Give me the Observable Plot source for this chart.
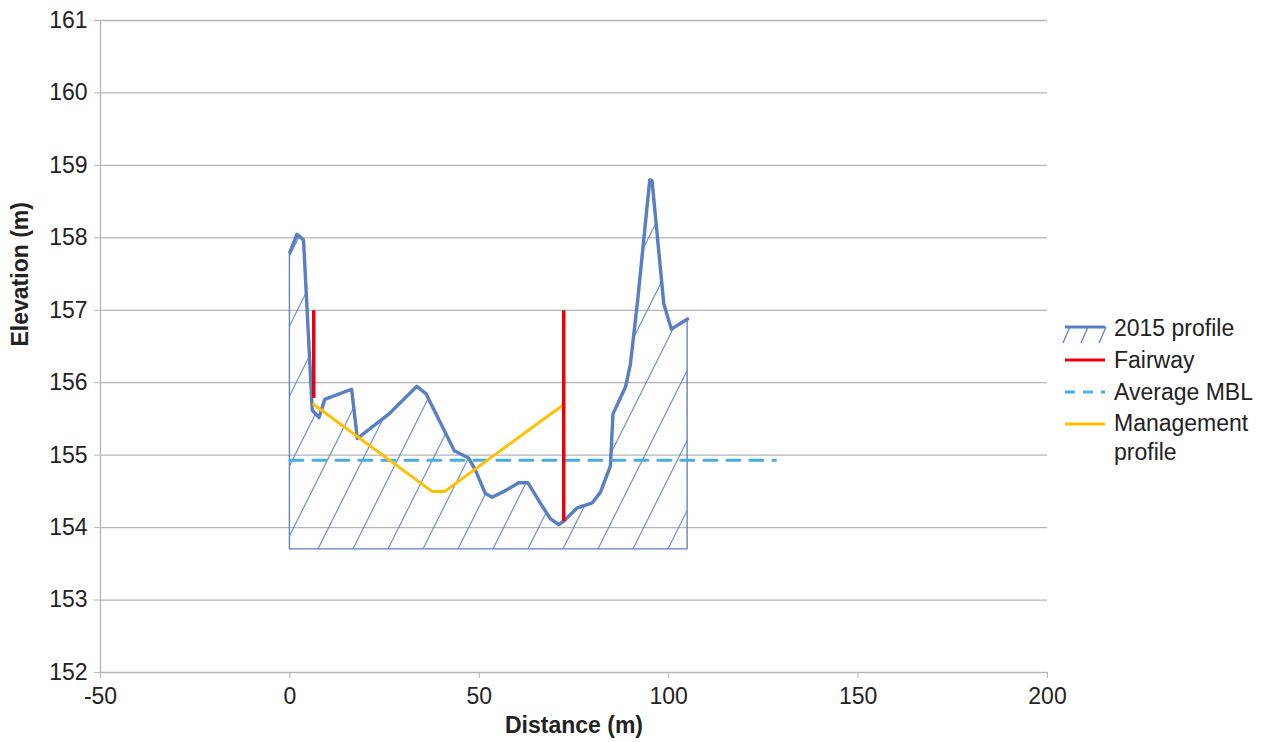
<!DOCTYPE html>
<html><head><meta charset="utf-8">
<script src="https://cdn.jsdelivr.net/npm/d3@7"></script>
<script src="https://cdn.jsdelivr.net/npm/@observablehq/plot@0.6"></script>
<style>
body{margin:0;background:#fff;font-family:"Liberation Sans",Arial,sans-serif;}
#wrap{position:relative;width:1271px;height:742px;}
#legend{position:absolute;left:1062px;top:312px;font-size:23px;color:#222;}
.row{position:relative;height:32px;line-height:32px;padding-left:52px;white-space:nowrap;}
.row svg{position:absolute;left:0;top:0;}
</style></head><body><div id="wrap"><div id="legend"></div></div>
<script>
// 2015 profile (distance m, elevation m)
const profileDistance = [0, 1.9, 3.6, 5.9, 7.7, 9.2, 16.3, 17.8, 26.2, 33.5, 35.9, 43.4, 47.2, 49.0, 51.6, 53.4, 56.9, 60.4, 62.8, 66.2, 68.8, 71.0, 72.3, 75.8, 79.8, 82.0, 84.6, 85.3, 88.6, 89.9, 91.8, 95.0, 95.6, 98.7, 100.7, 105.0];
const profileElevation = [157.8, 158.05, 157.97, 155.62, 155.52, 155.77, 155.91, 155.23, 155.57, 155.95, 155.85, 155.06, 154.96, 154.79, 154.47, 154.42, 154.51, 154.62, 154.62, 154.33, 154.12, 154.04, 154.09, 154.27, 154.34, 154.49, 154.85, 155.57, 155.94, 156.26, 157.13, 158.80, 158.79, 157.09, 156.74, 156.88];
const profileBase = 153.7;
// Fairway
const fairwayDistance = [6.3, 72.3];
const fairwayTop = [157.0, 157.0];
const fairwayBottom = [155.79, 154.09];
// Management profile
const mgmtDistance = [6.3, 37.5, 40.9, 72.3];
const mgmtElevation = [155.7, 154.5, 154.5, 155.7];
// Average MBL
const mblDistance = [0, 128.2];
const mblElevation = [154.93, 154.93];
// ticks
const xTicks = [-50, 0, 50, 100, 150, 200];
const yTicks = [152, 153, 154, 155, 156, 157, 158, 159, 160, 161];
const legendLabels = ["2015 profile", "Fairway", "Average MBL", "Management profile"];

const blue = "#5a7ec3", red = "#e8000b", cyan = "#47ade2", gold = "#ffc000", grid = "#b5b5b5";

const profile = profileDistance.map((d, i) => ({d, e: profileElevation[i]}));
const fairway = fairwayDistance.map((d, i) => ({d, top: fairwayTop[i], bot: fairwayBottom[i]}));
const mgmt = mgmtDistance.map((d, i) => ({d, e: mgmtElevation[i]}));
const mbl = mblDistance.map((d, i) => ({d, e: mblElevation[i]}));

const chart = Plot.plot({
  width: 1271, height: 742,
  marginLeft: 100, marginRight: 224, marginTop: 20, marginBottom: 70,
  style: {fontFamily: "'Liberation Sans', Arial, sans-serif", fontSize: "23px", color: "#222", background: "#fff"},
  x: {domain: [-50, 200], label: null},
  y: {domain: [152, 161], label: null},
  marks: [
    Plot.ruleY(yTicks, {stroke: grid, strokeWidth: 1.3}),
    Plot.ruleX([-50], {stroke: grid, strokeWidth: 1.3}),
    Plot.areaY(profile, {x: "d", y1: profileBase, y2: "e", fill: "url(#hatch)", stroke: blue, strokeWidth: 1.3}),
    Plot.line(profile, {x: "d", y: "e", stroke: blue, strokeWidth: 3.4}),
    Plot.line(mbl, {x: "d", y: "e", stroke: cyan, strokeWidth: 3, strokeDasharray: "13,10"}),
    Plot.line(mgmt, {x: "d", y: "e", stroke: gold, strokeWidth: 3}),
    Plot.link(fairway, {x1: "d", x2: "d", y1: "bot", y2: "top", stroke: red, strokeWidth: 3.5}),
    Plot.axisX({ticks: xTicks, tickSize: 6, tickPadding: 9, stroke: grid, label: null, fontSize: 23, tickFormat: d => String(d)}),
    Plot.axisY({ticks: yTicks, tickSize: 6, tickPadding: 7, stroke: grid, label: null, fontSize: 23, tickFormat: d => String(d)}),
    Plot.text(["Distance (m)"], {frameAnchor: "bottom", dy: 60, fontWeight: "bold", fontSize: 23, fill: "#222"}),
    Plot.text(["Elevation (m)"], {frameAnchor: "left", dx: -80, rotate: -90, fontWeight: "bold", fontSize: 23, fill: "#222"})
  ]
});

const defs = d3.select(chart).insert("defs", ":first-child");
const pat = defs.append("pattern").attr("id", "hatch").attr("patternUnits", "userSpaceOnUse")
  .attr("width", 35).attr("height", 20).attr("patternTransform", "skewX(-26.57)");
pat.append("line").attr("x1", 32.5).attr("x2", 32.5).attr("y1", -5).attr("y2", 25)
  .attr("stroke", blue).attr("stroke-width", 1.2);

document.getElementById("wrap").prepend(chart);

// legend
const lg = d3.select("#legend");
const swatches = [
  s => { s.append("line").attr("x1", 3).attr("x2", 43).attr("y1", 15).attr("y2", 15).attr("stroke", blue).attr("stroke-width", 3);
         [8, 26, 44].forEach(x => s.append("line").attr("x1", x).attr("x2", x - 7).attr("y1", 15).attr("y2", 31).attr("stroke", blue).attr("stroke-width", 1.3)); },
  s => s.append("line").attr("x1", 3).attr("x2", 43).attr("y1", 16).attr("y2", 16).attr("stroke", red).attr("stroke-width", 3),
  s => s.append("line").attr("x1", 3).attr("x2", 43).attr("y1", 16).attr("y2", 16).attr("stroke", cyan).attr("stroke-width", 3).attr("stroke-dasharray", "10,8"),
  s => s.append("line").attr("x1", 3).attr("x2", 43).attr("y1", 16).attr("y2", 16).attr("stroke", gold).attr("stroke-width", 3)
];
legendLabels.forEach((lab, i) => {
  const row = lg.append("div").attr("class", "row");
  const s = row.append("svg").attr("width", 48).attr("height", 32);
  swatches[i](s);
  if (lab === "Management profile") {
    row.append("span").html("Management<br>profile").style("display", "inline-block").style("line-height", "29px").style("vertical-align", "top").style("margin-top", "1px");
  } else row.append("span").text(lab);
});
</script>
</body></html>
